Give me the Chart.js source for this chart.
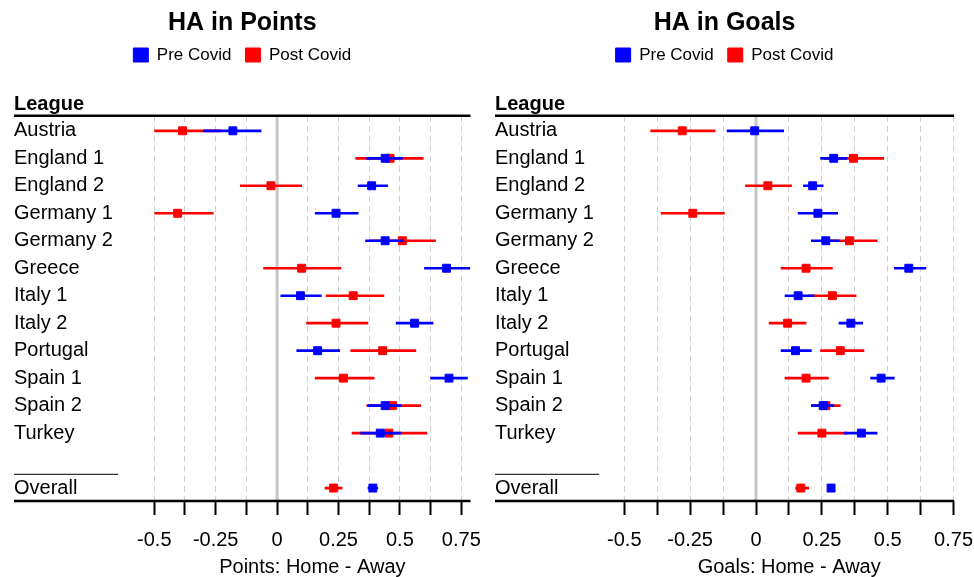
<!DOCTYPE html>
<html>
<head>
<meta charset="utf-8">
<script src="https://cdn.jsdelivr.net/npm/chart.js@4.4.1/dist/chart.umd.min.js"></script>
<style>
  body { margin: 0; background: #fff; }
  #wrap { display: flex; width: 974px; height: 577px; }
  canvas { display: block; }
</style>
</head>
<body>
<div id="wrap">
  <canvas id="points" width="487" height="577"></canvas>
  <canvas id="goals" width="487" height="577"></canvas>
</div>
<script>
const leagues = ['Austria', 'England 1', 'England 2', 'Germany 1', 'Germany 2', 'Greece',
                 'Italy 1', 'Italy 2', 'Portugal', 'Spain 1', 'Spain 2', 'Turkey'];
const rows = leagues.concat([' ', 'Overall']);
const dataRows = leagues.concat(['Overall']);

const xTicks = [-0.5, -0.375, -0.25, -0.125, 0, 0.125, 0.25, 0.375, 0.5, 0.625, 0.75];
const xTickLabels = ['-0.5', '', '-0.25', '', '0', '', '0.25', '', '0.5', '', '0.75'];

// HA in points (last value = Overall)
const ptsPre     = [-0.18, 0.44, 0.385, 0.24, 0.44, 0.69, 0.095, 0.56, 0.165, 0.70, 0.44, 0.42, 0.39];
const ptsPreLo   = [-0.30, 0.365, 0.33, 0.155, 0.36, 0.60, 0.015, 0.485, 0.08, 0.625, 0.37, 0.34, 0.37];
const ptsPreHi   = [-0.065, 0.51, 0.45, 0.33, 0.515, 0.785, 0.18, 0.635, 0.255, 0.775, 0.505, 0.505, 0.41];
const ptsPost    = [-0.385, 0.46, -0.025, -0.405, 0.51, 0.10, 0.31, 0.24, 0.43, 0.27, 0.47, 0.455, 0.23];
const ptsPostLo  = [-0.535, 0.32, -0.15, -0.545, 0.38, -0.055, 0.20, 0.12, 0.30, 0.155, 0.365, 0.305, 0.195];
const ptsPostHi  = [-0.23, 0.595, 0.10, -0.26, 0.645, 0.26, 0.435, 0.37, 0.565, 0.395, 0.585, 0.61, 0.265];

// HA in goals (last value = Overall)
const glsPre     = [-0.005, 0.295, 0.215, 0.235, 0.265, 0.58, 0.16, 0.36, 0.15, 0.475, 0.255, 0.40, 0.285];
const glsPreLo   = [-0.11, 0.245, 0.18, 0.16, 0.21, 0.525, 0.11, 0.315, 0.095, 0.435, 0.21, 0.335, 0.275];
const glsPreHi   = [0.105, 0.345, 0.255, 0.31, 0.315, 0.645, 0.22, 0.405, 0.21, 0.525, 0.295, 0.46, 0.295];
const glsPost    = [-0.28, 0.37, 0.045, -0.24, 0.355, 0.19, 0.29, 0.12, 0.32, 0.19, 0.265, 0.25, 0.17];
const glsPostLo  = [-0.40, 0.26, -0.04, -0.36, 0.25, 0.095, 0.20, 0.05, 0.245, 0.11, 0.21, 0.16, 0.15];
const glsPostHi  = [-0.155, 0.485, 0.135, -0.12, 0.46, 0.29, 0.38, 0.19, 0.41, 0.275, 0.32, 0.345, 0.20];

const BLUE = '#0000ff';
const RED = '#ff0000';

Chart.defaults.font.family = "'Liberation Sans', Arial, sans-serif";

function rowIndex(i) {
    return rows.indexOf(dataRows[i]);
}
function toPoints(vals) {
    return vals.map((v, i) => ({x: v, y: rowIndex(i)}));
}
function toRanges(lo, hi) {
    return lo.map((v, i) => ({x: [v, hi[i]], y: rowIndex(i)}));
}

// zero line, header rules and the short line above "Overall"
const forestDecor = {
    id: 'forestDecor',
    beforeDatasetsDraw(chart) {
        const {ctx, chartArea: a, scales: {x, y}} = chart;
        const left = y.left;
        ctx.save();
        const x0 = x.getPixelForValue(0);
        ctx.strokeStyle = '#c6c6c6';
        ctx.lineWidth = 3;
        ctx.beginPath();
        ctx.moveTo(x0, a.top);
        ctx.lineTo(x0, a.bottom);
        ctx.stroke();

        ctx.strokeStyle = '#000';
        ctx.lineWidth = 2.5;
        ctx.beginPath();
        ctx.moveTo(left, a.top);
        ctx.lineTo(a.right, a.top);
        ctx.moveTo(left, a.bottom);
        ctx.lineTo(a.right, a.bottom);
        ctx.stroke();

        const ys = (y.getPixelForValue(rows.length - 2) + y.getPixelForValue(rows.length - 1)) / 2;
        ctx.strokeStyle = '#333';
        ctx.lineWidth = 1.2;
        ctx.beginPath();
        ctx.moveTo(left, ys);
        ctx.lineTo(left + 104, ys);
        ctx.stroke();
        ctx.restore();
    }
};

function makeChart(id, title, axisTitle, pre, preLo, preHi, post, postLo, postHi, box) {
    new Chart(document.getElementById(id), {
        type: 'bar',
        data: {
            datasets: [
                {type: 'scatter', label: 'Pre Covid', data: toPoints(pre), backgroundColor: BLUE, borderColor: BLUE,
                 borderWidth: 1, pointStyle: 'rect', pointRadius: 5.6, order: 0},
                {type: 'bar', label: '', data: toRanges(preLo, preHi), backgroundColor: BLUE,
                 barThickness: 2, grouped: false, order: 1},
                {type: 'scatter', label: 'Post Covid', data: toPoints(post), backgroundColor: RED, borderColor: RED,
                 borderWidth: 1, pointStyle: 'rect', pointRadius: 5.6, order: 2},
                {type: 'bar', label: '', data: toRanges(postLo, postHi), backgroundColor: RED,
                 barThickness: 2, grouped: false, order: 3}
            ]
        },
        options: {
            indexAxis: 'y',
            responsive: false,
            animation: false,
            layout: {padding: {left: box.padLeft, right: box.padRight, top: 0, bottom: 0}},
            plugins: {
                title: {
                    display: true, text: title, color: '#000',
                    font: {size: 25, weight: 'bold'},
                    padding: {top: 8, bottom: -5.5}
                },
                legend: {
                    display: true,
                    labels: {
                        boxWidth: 15, boxHeight: 14, padding: 14, color: '#000',
                        font: {size: 17},
                        filter: item => item.text !== ''
                    }
                },
                subtitle: {
                    display: true, text: 'League', align: 'start', color: '#000', weight: 500,
                    font: {size: 20, weight: 'bold', lineHeight: 1},
                    padding: {top: 21.3, bottom: 0.9}
                },
                tooltip: {enabled: false}
            },
            scales: {
                x: {
                    type: 'linear',
                    min: -0.5,
                    max: box.xMax,
                    afterBuildTicks: s => { s.ticks = xTicks.map(v => ({value: v})); },
                    ticks: {
                        autoSkip: false, maxRotation: 0, color: '#000', padding: 0,
                        font: {size: 20, lineHeight: 2.5},
                        callback: (v, i) => xTickLabels[i]
                    },
                    grid: {
                        color: c => (c.tick && c.tick.value === 0) ? 'rgba(0,0,0,0)' : '#cfcfcf',
                        lineWidth: 1,
                        tickColor: '#000',
                        tickWidth: 2,
                        tickLength: 14
                    },
                    border: {display: false, dash: [6, 4]},
                    title: {
                        display: true, text: axisTitle, color: '#000',
                        font: {size: 20, lineHeight: 1},
                        padding: {top: -8, bottom: 0}
                    }
                },
                y: {
                    type: 'linear',
                    reverse: true,
                    offset: false,
                    min: -0.55,
                    max: 13.47,
                    afterBuildTicks: s => { s.ticks = rows.map((r, i) => ({value: i})); },
                    afterFit: s => { s.width = box.labelWidth; },
                    grid: {display: false},
                    border: {display: false},
                    ticks: {
                        crossAlign: 'far', color: '#000', autoSkip: false, font: {size: 20},
                        callback: (v, i) => rows[i]
                    }
                }
            }
        },
        plugins: [forestDecor]
    });
}

makeChart('points', 'HA in Points', 'Points: Home - Away',
          ptsPre, ptsPreLo, ptsPreHi, ptsPost, ptsPostLo, ptsPostHi,
          {padLeft: 14, padRight: 16.5, labelWidth: 140.3, xMax: 0.7875});
makeChart('goals', 'HA in Goals', 'Goals: Home - Away',
          glsPre, glsPreLo, glsPreHi, glsPost, glsPostLo, glsPostHi,
          {padLeft: 8, padRight: 19.9, labelWidth: 129.3, xMax: 0.752});
</script>
</body>
</html>
